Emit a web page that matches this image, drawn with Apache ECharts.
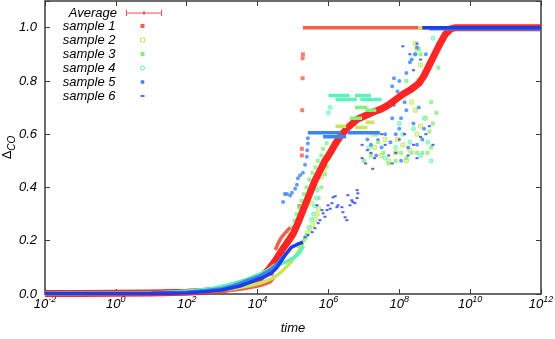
<!doctype html>
<html>
<head>
<meta charset="utf-8">
<script src="https://cdn.jsdelivr.net/npm/echarts@6/dist/echarts.min.js"></script>
<style>
  html, body { margin: 0; padding: 0; background: #fff; }
  #chart { width: 555px; height: 339px; }
</style>
</head>
<body>
<div id="chart"></div>
<script>
// x values are log10(time), y values are Delta_CO
const xTickExp = [-2, 0, 2, 4, 6, 8, 10, 12];

const averagePts = [
  [-2, 0.002], [-1, 0.002], [0, 0.003], [1, 0.004], [2, 0.007], [2.5, 0.01], [3, 0.016],
  [3.5, 0.028], [4.0, 0.05], [4.3, 0.09], [4.5, 0.125], [4.69, 0.165], [4.85, 0.195],
  [5.0, 0.225], [5.15, 0.27], [5.3, 0.32], [5.45, 0.37], [5.6, 0.42], [5.75, 0.46],
  [5.9, 0.5], [6.05, 0.53], [6.2, 0.565], [6.35, 0.595], [6.55, 0.625], [6.8, 0.655],
  [7.05, 0.67], [7.3, 0.685], [7.5, 0.695], [7.7, 0.71], [7.9, 0.73], [8.1, 0.75],
  [8.35, 0.77], [8.55, 0.79], [8.7, 0.82], [8.85, 0.86], [9.0, 0.9], [9.15, 0.94],
  [9.3, 0.975], [9.45, 0.995], [9.6, 1.0], [12, 1.0]
];

// sample 1
const s1Track = [
  [-2, 0.001], [1, 0.002], [2, 0.004], [2.7, 0.008], [3.2, 0.013], [3.6, 0.02], [3.9, 0.027],
  [4.15, 0.035], [4.35, 0.045], [4.45, 0.06], null,
  [4.5, 0.165], [4.58, 0.19], [4.66, 0.21], [4.75, 0.225], [4.85, 0.24], [4.92, 0.25], null,
  [5.28, 1.0], [12, 1.0]
];
const s1Dots = [
  [4.4, 0.075], [4.6, 0.13], [5.18, 0.33], [5.25, 0.52], [5.25, 0.545], [5.26, 0.69],
  [5.27, 0.81], [5.27, 0.885], [5.28, 0.9]
];

// sample 2
const s2Track = [
  [-2, 0.001], [1, 0.003], [2, 0.006], [2.8, 0.012], [3.4, 0.022], [3.8, 0.032], [4.1, 0.042],
  [4.3, 0.052], [4.5, 0.065], [4.65, 0.08], [4.8, 0.1], [4.95, 0.12], [5.08, 0.145],
  [5.2, 0.17], [5.28, 0.19], null,
  [6.2, 0.63], [6.5, 0.63], null,
  [6.75, 0.625], [7.1, 0.625], null,
  [7.05, 0.645], [7.3, 0.645], null,
  [8.53, 1.0], [12, 1.0]
];
const s2Dots = [
  [5.35, 0.21], [5.4, 0.23], [5.48, 0.245], [5.55, 0.26], [5.62, 0.28], [5.68, 0.3],
  [5.72, 0.32], [5.52, 0.34], [5.65, 0.4], [5.8, 0.44], [5.9, 0.47], [6.0, 0.51],
  [6.1, 0.54], [6.25, 0.57], [7.25, 0.6], [7.3, 0.55], [7.5, 0.52], [7.6, 0.58],
  [7.7, 0.5], [7.9, 0.53], [7.95, 0.58], [8.1, 0.56], [8.2, 0.5], [8.3, 0.54],
  [8.5, 0.6], [8.6, 0.63], [8.75, 0.66], [8.45, 0.69], [8.35, 0.72], [8.55, 0.8],
  [8.6, 0.86], [8.5, 0.92], [8.45, 0.94]
];

// sample 3
const s3Track = [
  [-2, 0.002], [0.7, 0.003], [1.5, 0.006], [2.2, 0.012], [2.7, 0.02], [3.1, 0.03],
  [3.4, 0.042], [3.7, 0.055], [3.95, 0.068], [4.15, 0.08], [4.35, 0.095], [4.5, 0.11], null,
  [6.6, 0.66], [6.95, 0.66], null,
  [6.75, 0.7], [7.1, 0.7], null,
  [7.05, 0.69], [7.35, 0.69]
];
const s3Dots = [
  [4.62, 0.15], [4.72, 0.175], [4.8, 0.2], [4.9, 0.225], [4.97, 0.25], [5.04, 0.275],
  [5.1, 0.3], [5.17, 0.325], [5.24, 0.35], [5.31, 0.375], [5.38, 0.4], [5.46, 0.43],
  [5.55, 0.455], [5.63, 0.475], [5.7, 0.5], [5.8, 0.52], [5.85, 0.545], [5.95, 0.566],
  [5.15, 0.18], [5.2, 0.16], [5.3, 0.2], [5.72, 0.36], [5.8, 0.4], [5.9, 0.45], [5.95, 0.48],
  [7.0, 0.5], [7.2, 0.52], [7.4, 0.57], [7.55, 0.53], [7.7, 0.49], [7.9, 0.5],
  [8.05, 0.53], [8.2, 0.51], [8.35, 0.53], [8.5, 0.53], [8.65, 0.53], [8.8, 0.53],
  [8.9, 0.55], [8.85, 0.61], [8.95, 0.64], [9.05, 0.68], [8.9, 0.72], [8.2, 0.8],
  [9.1, 0.85], [8.55, 0.92], [8.6, 0.9]
];

// sample 4
const s4Track = [
  [-2, 0.002], [1.0, 0.004], [2.0, 0.01], [2.7, 0.02], [3.2, 0.035], [3.6, 0.05],
  [3.9, 0.065], [4.15, 0.078], [4.4, 0.095], [4.6, 0.11], [4.8, 0.12], [5.0, 0.135],
  [5.15, 0.15], [5.3, 0.18], null,
  [6.0, 0.745], [6.6, 0.745], null,
  [6.75, 0.745], [7.2, 0.745], null,
  [6.2, 0.73], [6.8, 0.73], null,
  [6.9, 0.73], [7.5, 0.73]
];
const s4Dots = [
  [5.38, 0.22], [5.45, 0.25], [5.52, 0.28], [5.58, 0.3], [5.62, 0.33], [5.66, 0.36],
  [5.68, 0.39], [5.6, 0.41], [6.0, 0.68], [6.05, 0.7], [7.15, 0.55], [7.35, 0.6],
  [7.6, 0.51], [7.9, 0.55], [8.0, 0.64], [8.1, 0.6], [8.3, 0.57], [8.4, 0.62],
  [8.6, 0.52], [8.7, 0.66], [8.8, 0.57], [8.9, 0.5], [8.45, 0.9], [8.95, 0.96], [9.1, 0.94]
];

// sample 5
const s5Track = [
  [-2, 0.003], [0, 0.003], [1, 0.004], [2, 0.007], [2.5, 0.012], [3, 0.02], [3.3, 0.03],
  [3.5, 0.04], [3.7, 0.05], [3.9, 0.06], [4.1, 0.07], [4.3, 0.085], [4.45, 0.1],
  [4.6, 0.12], [4.7, 0.14], null,
  [5.42, 0.605], [6.35, 0.605], null,
  [5.85, 0.59], [6.5, 0.59], null,
  [6.55, 0.605], [7.45, 0.605], null,
  [8.85, 0.996], [12, 0.996]
];
const s5Dots = [
  [4.72, 0.345], [4.77, 0.375], [4.83, 0.375], [4.92, 0.37], [4.97, 0.38], [5.06, 0.395],
  [5.11, 0.41], [5.14, 0.435], [5.2, 0.446], [5.28, 0.455], [5.34, 0.485], [5.39, 0.515],
  [5.4, 0.54], [5.42, 0.565], [5.42, 0.585],
  [7.1, 0.58], [7.2, 0.56], [7.35, 0.52], [7.5, 0.55], [7.6, 0.6], [7.75, 0.57],
  [7.9, 0.6], [8.0, 0.62], [8.05, 0.66], [7.8, 0.66], [7.65, 0.71], [7.85, 0.71],
  [7.95, 0.76], [7.8, 0.78], [8.0, 0.8], [7.85, 0.81], [8.2, 0.83], [8.3, 0.87],
  [8.35, 0.88], [8.45, 0.9], [8.5, 0.925], [8.75, 0.9], [8.05, 0.5], [8.25, 0.55],
  [8.5, 0.56], [8.65, 0.58], [8.4, 0.64], [8.7, 0.62], [8.55, 0.7], [8.15, 0.72],
  [8.3, 0.77], [8.2, 0.69]
];

// sample 6
const s6Track = [
  [-2, 0.001], [1, 0.002], [2, 0.004], [2.5, 0.008], [3, 0.015], [3.5, 0.03], [3.8, 0.045],
  [4.0, 0.055], [4.2, 0.065], [4.4, 0.08], [4.55, 0.1], [4.65, 0.12], [4.8, 0.15],
  [4.95, 0.175], [5.1, 0.185], [5.28, 0.195], null,
  [8.65, 1.0], [12, 1.0]
];
const s6Dots = [
  [5.34, 0.213], [5.42, 0.221], [5.54, 0.232], [5.62, 0.247], [5.71, 0.266], [5.76, 0.277],
  [5.68, 0.333], [5.82, 0.315], [5.85, 0.303], [5.9, 0.29], [5.96, 0.315], [5.99, 0.333],
  [6.05, 0.32], [6.1, 0.341], [6.13, 0.363], [6.19, 0.367], [6.24, 0.326], [6.27, 0.333],
  [6.38, 0.326], [6.41, 0.307], [6.47, 0.288], [6.52, 0.277], [6.55, 0.371], [6.61, 0.333],
  [6.66, 0.352], [6.69, 0.345], [6.75, 0.341], [6.81, 0.39], [6.83, 0.378], [6.81, 0.36],
  [6.95, 0.51], [6.95, 0.56], [7.05, 0.49], [7.1, 0.54], [7.2, 0.53], [7.25, 0.47],
  [7.3, 0.51], [7.4, 0.58], [7.5, 0.6], [7.6, 0.56], [7.7, 0.52], [7.8, 0.49],
  [7.9, 0.53], [8.0, 0.58], [8.15, 0.6], [8.25, 0.52], [8.4, 0.56], [8.5, 0.51],
  [8.6, 0.59], [8.75, 0.6], [8.85, 0.63], [8.95, 0.56], [8.1, 0.93], [8.3, 0.9],
  [8.4, 0.84], [8.5, 0.94], [8.6, 0.88]
];

const COLORS = {
  avg: '#ff1414',
  s1: '#f4604c', s2: '#c8e55c', s3: '#86ef7c',
  s4: '#5df2ba', s5: '#3a85ef', s6: '#1e3ce8'
};
const FONT = '"Liberation Sans", Arial, sans-serif';
const AXIS_COLOR = '#3c3c3c';

const errorBarIcon = 'path://M0,0h1v6h-1zM35,0h1v6h-1zM0,2.5h36v1h-36zM17,1.5h2v3h-2z';

function sampleSeries(name, color, track, dots, symbol, symbolSize, itemStyle) {
  return [
    {
      name, type: 'line', data: track, showSymbol: false, connectNulls: false,
      lineStyle: { color, width: 3.5 }, itemStyle: { color }, silent: true
    },
    {
      name, type: 'scatter', data: dots, symbol, symbolSize,
      itemStyle: Object.assign({ color }, itemStyle || {})
    }
  ];
}

const tickBase = { show: true, inside: true, length: 5, lineStyle: { color: AXIS_COLOR, width: 1 } };
const lineOff = { show: false, onZero: false };

const chart = echarts.init(document.getElementById('chart'), null, { renderer: 'canvas' });
chart.setOption({
  animation: false,
  backgroundColor: '#fff',
  grid: {
    left: 45, right: 14, top: 1, bottom: 45, outerBoundsMode: 'none', containLabel: false,
    show: true, borderColor: AXIS_COLOR, borderWidth: 1.5, backgroundColor: 'transparent'
  },
  legend: [
    {
      orient: 'vertical', align: 'right', right: 393, top: 6.5, padding: 0,
      itemWidth: 36, itemHeight: 6, symbolKeepAspect: false,
      textStyle: { fontFamily: FONT, fontSize: 13, fontStyle: 'italic', color: '#000', padding: [0, 4, 0, 0] },
      data: [{ name: 'Average', icon: errorBarIcon, itemStyle: { color: '#f05050' } }]
    },
    {
      orient: 'vertical', align: 'right', right: 410, top: 19.5, padding: 0,
      itemWidth: 4, itemHeight: 4, itemGap: 1,
      textStyle: { fontFamily: FONT, fontSize: 13, fontStyle: 'italic', color: '#000', padding: [0, 20, 0, 0] },
      data: [
        { name: 'sample 1', icon: 'rect', itemStyle: { color: COLORS.s1 } },
        { name: 'sample 2', icon: 'rect', itemStyle: { color: '#fff', borderColor: COLORS.s2, borderWidth: 1 } },
        { name: 'sample 3', icon: 'rect', itemStyle: { color: COLORS.s3 } },
        { name: 'sample 4', icon: 'circle', itemStyle: { color: '#fff', borderColor: COLORS.s4, borderWidth: 1 } },
        { name: 'sample 5', icon: 'circle', itemStyle: { color: COLORS.s5 } },
        { name: 'sample 6', icon: 'path://M0,0h4v1.5h-4z', itemStyle: { color: COLORS.s6 } }
      ]
    }
  ],
  xAxis: [
    {
      type: 'value', position: 'bottom', min: -2, max: 12, interval: 2,
      axisLine: lineOff, splitLine: { show: false },
      axisTick: tickBase,
      name: 'time', nameLocation: 'middle', nameGap: 28,
      nameTextStyle: { fontFamily: FONT, fontSize: 13, fontStyle: 'italic', color: '#000' },
      axisLabel: {
        margin: 1,
        formatter: v => '{b|10}{s|' + v + '}',
        rich: {
          b: { fontFamily: FONT, fontSize: 13, fontStyle: 'italic', color: '#000', verticalAlign: 'bottom', lineHeight: 16 },
          s: { fontFamily: FONT, fontSize: 9, fontStyle: 'italic', color: '#000', verticalAlign: 'top', lineHeight: 16 }
        }
      }
    },
    {
      type: 'value', position: 'top', min: -2, max: 12, interval: 2,
      axisLine: lineOff, splitLine: { show: false },
      axisTick: tickBase, axisLabel: { show: false }
    }
  ],
  yAxis: [
    {
      type: 'value', position: 'left', min: 0, max: 1.1, interval: 0.2,
      axisLine: lineOff, splitLine: { show: false },
      axisTick: tickBase,
      name: '{d|Δ}{s|CO}', nameLocation: 'middle', nameGap: 28, nameRotate: 90,
      nameMoveOverlap: false,
      nameTextStyle: {
        rich: {
          d: { fontFamily: FONT, fontSize: 13, color: '#000', verticalAlign: 'top', lineHeight: 16 },
          s: { fontFamily: FONT, fontSize: 10, fontStyle: 'italic', color: '#000', verticalAlign: 'bottom', lineHeight: 16 }
        }
      },
      axisLabel: {
        margin: 8, fontFamily: FONT, fontSize: 13, fontStyle: 'italic', color: '#000',
        formatter: v => (Math.abs(v / 0.2 - Math.round(v / 0.2)) < 1e-6 ? v.toFixed(1) : '')
      }
    },
    {
      type: 'value', position: 'right', min: 0, max: 1.1, interval: 0.2,
      axisLine: lineOff, splitLine: { show: false },
      axisTick: tickBase, axisLabel: { show: false }
    }
  ],
  series: [
    {
      name: 'Average', type: 'line', data: averagePts, showSymbol: false,
      lineStyle: { color: COLORS.avg, width: 7, join: 'round', opacity: 0.92 },
      itemStyle: { color: COLORS.avg }
    },
    ...sampleSeries('sample 1', COLORS.s1, s1Track, s1Dots, 'rect', 4),
    ...sampleSeries('sample 2', COLORS.s2, s2Track, s2Dots, 'rect', 4,
      { color: '#def29c', borderColor: COLORS.s2, borderWidth: 1 }),
    ...sampleSeries('sample 3', COLORS.s3, s3Track, s3Dots, 'rect', 4),
    ...sampleSeries('sample 4', COLORS.s4, s4Track, s4Dots, 'circle', 4,
      { color: '#a4f7d8', borderColor: COLORS.s4, borderWidth: 1 }),
    ...sampleSeries('sample 5', COLORS.s5, s5Track, s5Dots, 'circle', 4),
    ...sampleSeries('sample 6', COLORS.s6, s6Track, s6Dots, 'rect', [3, 2])
  ]
});
</script>
</body>
</html>
